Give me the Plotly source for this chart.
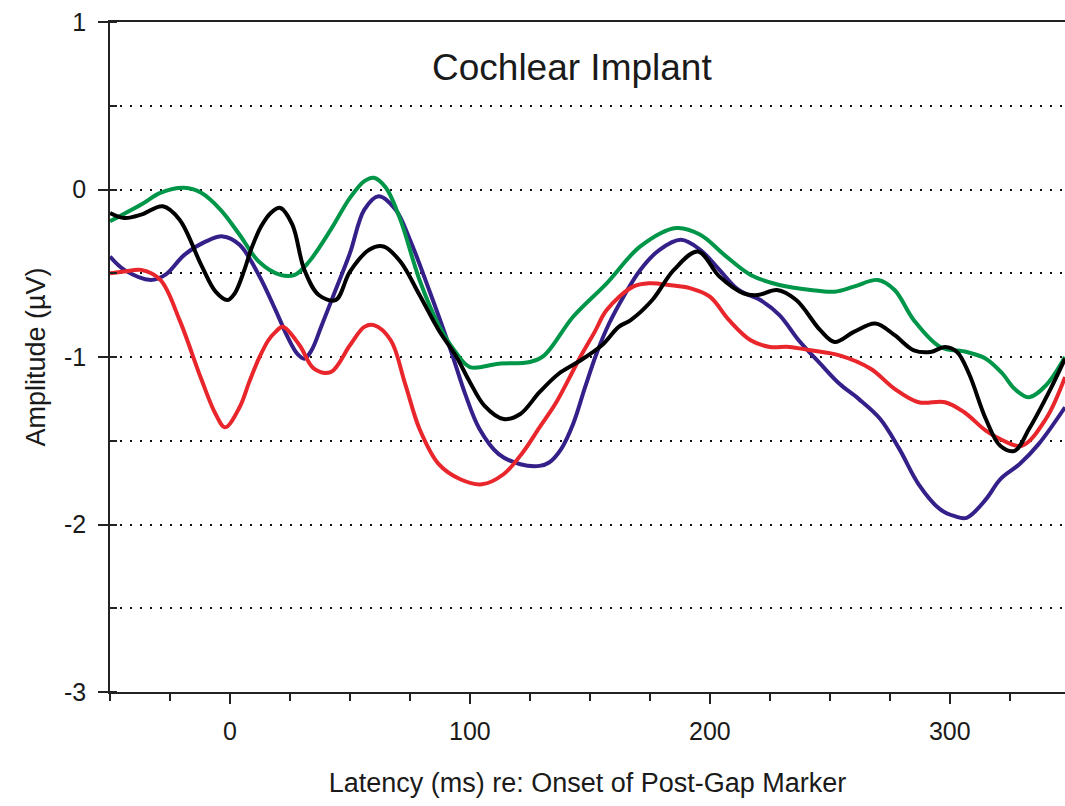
import plotly.graph_objects as go

# latency (ms) / amplitude (uV)
black_x = [-50, -44, -37, -28, -21, -12, -6, -1, 2, 6, 9, 13, 17, 21, 26, 31, 37, 44, 50, 58, 64, 71,
           79, 87, 94, 100, 106, 114, 121, 129, 137, 145, 155, 162, 167, 176, 185, 195, 204, 214, 220,
           228, 236, 246, 252, 260, 269, 277, 285, 292, 298, 303, 308, 315, 321, 327, 333, 342, 348]
black_y = [-0.14, -0.17, -0.15, -0.10, -0.18, -0.45, -0.61, -0.66, -0.62, -0.48, -0.35, -0.22, -0.14,
           -0.11, -0.21, -0.48, -0.63, -0.66, -0.49, -0.36, -0.34, -0.43, -0.63, -0.84, -0.99, -1.15,
           -1.29, -1.37, -1.34, -1.21, -1.10, -1.03, -0.93, -0.82, -0.78, -0.66, -0.48, -0.37, -0.52,
           -0.62, -0.63, -0.60, -0.66, -0.84, -0.91, -0.85, -0.80, -0.87, -0.96, -0.97, -0.94, -0.97,
           -1.10, -1.37, -1.53, -1.56, -1.43, -1.19, -1.01]

green_x = [-50, -37, -29, -19, -12, -4, 4, 12, 21, 27, 33, 42, 50, 56, 60, 65, 71, 79, 87, 94, 100,
           112, 125, 131, 143, 157, 171, 186, 196, 206, 217, 229, 242, 252, 260, 270, 277, 285, 296,
           307, 315, 322, 327, 333, 340, 348]
green_y = [-0.19, -0.09, -0.02, 0.01, -0.02, -0.12, -0.27, -0.43, -0.51, -0.51, -0.43, -0.24, -0.05,
           0.05, 0.07, 0.01, -0.18, -0.54, -0.81, -0.97, -1.06, -1.04, -1.03, -0.99, -0.76, -0.56,
           -0.34, -0.23, -0.27, -0.39, -0.51, -0.57, -0.60, -0.61, -0.58, -0.54, -0.60, -0.78, -0.94,
           -0.97, -1.01, -1.10, -1.19, -1.24, -1.17, -1.00]

purple_x = [-50, -44, -33, -27, -19, -10, -3, 4, 12, 19, 24, 28, 31, 34, 38, 44, 50, 56, 62, 69, 75, 83,
            92, 98, 104, 112, 121, 129, 133, 138, 143, 148, 153, 158, 164, 171, 179, 188, 196, 204, 212,
            221, 229, 237, 246, 254, 262, 271, 279, 287, 296, 302, 307, 315, 321, 329, 337, 348]
purple_y = [-0.40, -0.48, -0.54, -0.51, -0.39, -0.31, -0.28, -0.33, -0.51, -0.72, -0.88, -0.98, -1.01,
            -0.96, -0.82, -0.60, -0.38, -0.12, -0.04, -0.12, -0.30, -0.60, -0.96, -1.22, -1.43, -1.58,
            -1.64, -1.65, -1.63, -1.55, -1.40, -1.18, -0.97, -0.80, -0.64, -0.48, -0.36, -0.30, -0.36,
            -0.48, -0.60, -0.66, -0.75, -0.90, -1.04, -1.16, -1.25, -1.37, -1.55, -1.76, -1.91, -1.95,
            -1.96, -1.85, -1.73, -1.64, -1.52, -1.30]

red_x = [-50, -44, -37, -29, -21, -12, -6, -2, 4, 8, 12, 16, 19, 22, 29, 35, 42, 50, 56, 60, 67, 73, 79,
         87, 96, 105, 114, 122, 129, 136, 146, 152, 157, 168, 175, 183, 192, 200, 208, 217, 225, 233,
         242, 254, 267, 277, 287, 298, 306, 315, 321, 330, 340, 348]
red_y = [-0.50, -0.49, -0.48, -0.54, -0.78, -1.13, -1.34, -1.42, -1.30, -1.15, -1.01, -0.90, -0.85,
         -0.82, -0.93, -1.07, -1.09, -0.93, -0.82, -0.81, -0.90, -1.16, -1.43, -1.64, -1.73, -1.76,
         -1.70, -1.57, -1.42, -1.27, -1.00, -0.85, -0.72, -0.58, -0.56, -0.57, -0.59, -0.64, -0.78,
         -0.90, -0.94, -0.94, -0.96, -0.99, -1.07, -1.19, -1.27, -1.27, -1.33, -1.44, -1.49, -1.53,
         -1.37, -1.12]

y_ticks = [1, 0, -1, -2, -3]
y_ticklabels = ['1', '0', '-1', '-2', '-3']
x_ticks = [0, 100, 200, 300]

FONT = 'Liberation Sans, Arial, sans-serif'

fig = go.Figure()
for xs, ys, col in [
    (purple_x, purple_y, '#35208a'),
    (red_x, red_y, '#e8262b'),
    (green_x, green_y, '#00964a'),
    (black_x, black_y, '#000000'),
]:
    fig.add_trace(go.Scatter(x=xs, y=ys, mode='lines',
                             line=dict(color=col, width=4, shape='spline', smoothing=1.0),
                             showlegend=False))

fig.add_annotation(x=142.5, y=0.73, xref='x', yref='y', text='Cochlear Implant', showarrow=False,
                   font=dict(size=37, color='#1a1a1a', family=FONT))

fig.update_layout(
    width=1065, height=806,
    margin=dict(l=110, r=0, t=22, b=114),
    plot_bgcolor='white', paper_bgcolor='white',
    font=dict(family=FONT, color='#1a1a1a'),
    xaxis=dict(
        range=[-50, 348], tickvals=x_ticks, ticks='outside', ticklen=10, tickwidth=1.5,
        tickcolor='#222', showline=True, linecolor='#222', linewidth=1.5, mirror=True,
        showgrid=False, zeroline=False, tickfont=dict(size=25), ticklabelstandoff=6,
        minor=dict(dtick=25, tick0=0, ticks='outside', ticklen=7, tickwidth=1.5, tickcolor='#222',
                   showgrid=False),
        title=dict(text='Latency (ms) re: Onset of Post-Gap Marker', font=dict(size=27), standoff=29),
    ),
    yaxis=dict(
        range=[-3, 1], tickvals=y_ticks, ticktext=y_ticklabels, ticks='outside', ticklen=10,
        tickwidth=1.5, tickcolor='#222', showline=True, linecolor='#222', linewidth=1.5,
        showgrid=True, gridcolor='#111', gridwidth=1.6, griddash='2px,8px', zeroline=False,
        tickfont=dict(size=25), ticklabelstandoff=7,
        minor=dict(dtick=0.5, tick0=0, ticks='inside', ticklen=7, tickwidth=1.5, tickcolor='#222',
                   showgrid=True, gridcolor='#111', gridwidth=1.6, griddash='2px,8px'),
        title=dict(text='Amplitude (µV)', font=dict(size=27), standoff=11),
    ),
)

fig.write_html("out.html", config={'displayModeBar': False},
               post_script="document.body.style.margin='0';document.body.style.overflow='hidden';")
